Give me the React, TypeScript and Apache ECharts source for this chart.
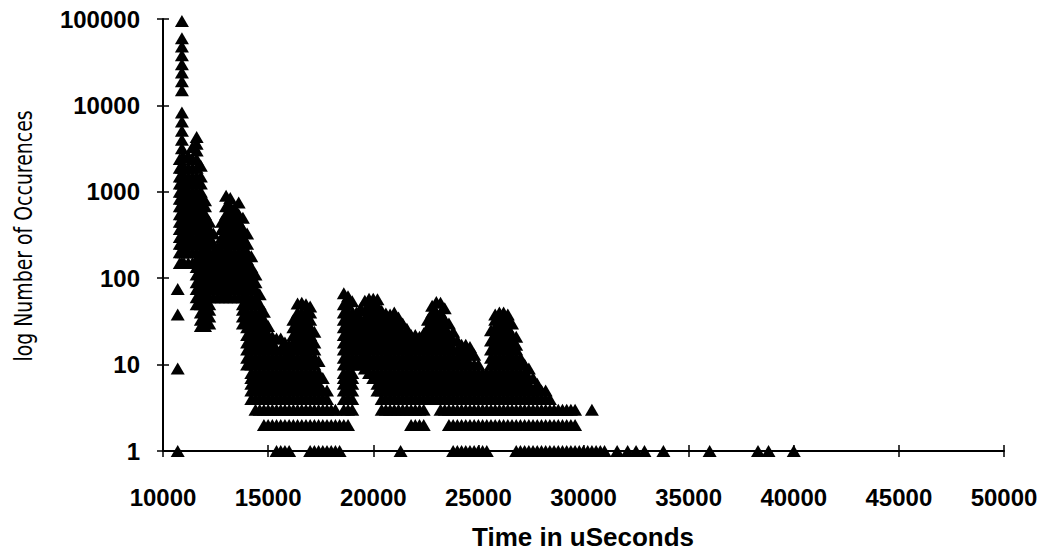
import { useEffect, useRef } from "react";
import * as echarts from "echarts";

// Histogram of event times: [time in µs, counts observed in that time column]
const peakRegion: [number, number[]][] = [
  [10700, [1, 9, 38, 75]],
  [10800, [150, 200, 250, 300, 370, 450, 550, 680, 830, 1000, 1250, 1500, 1900, 2400]],
  [10900, [150, 200, 250, 300, 370, 450, 550, 680, 830, 1000, 1250, 1500, 1900, 2500, 3200, 4000, 5100, 6500, 8300, 15000, 19000, 24000, 30000, 38000, 48000, 60000, 95000]],
  [11000, [150, 200, 250, 300, 370, 450, 550, 680, 830, 1000, 1250, 1500, 1900, 2500]],
  [11200, [150, 200, 250, 300, 370, 450, 550, 680, 830, 1000, 1250, 1500, 1900, 2600]],
  [11400, [150, 200, 250, 300, 370, 450, 550, 680, 830, 1000, 1250, 1500, 1900, 2400, 3300]],
  [11600, [50, 60, 75, 90, 110, 135, 165, 200, 250, 300, 370, 450, 550, 680, 830, 1000, 1250, 1500, 1900, 2400, 3000, 3600, 4300]],
  [11800, [28, 33, 40, 50, 60, 75, 90, 110, 135, 165, 200, 250, 300, 370, 450, 550, 680, 830, 1000, 1250, 1500, 2000]],
  [12000, [28, 33, 40, 50, 60, 75, 90, 110, 135, 165, 200, 250, 300, 370, 450, 550, 680, 800]],
  [12200, [30, 36, 43, 50, 60, 75, 90, 110, 135, 165, 200, 250, 300, 370, 450]],
  [12400, [60, 75, 90, 110, 135, 165, 200, 250, 330]],
  [12600, [60, 75, 90, 110, 135, 165, 200, 230]],
  [12800, [60, 75, 90, 110, 135, 165, 200, 250, 300, 370, 450]],
  [13000, [60, 75, 90, 110, 135, 165, 200, 250, 300, 370, 450, 550, 680, 900]],
  [13200, [60, 75, 90, 110, 135, 165, 200, 250, 300, 370, 450, 550, 680, 850]],
  [13400, [60, 75, 90, 110, 135, 165, 200, 250, 300, 370, 450, 550, 650]],
  [13600, [60, 75, 90, 110, 135, 165, 200, 250, 300, 370, 450, 550, 750]],
  [13800, [30, 36, 43, 50, 60, 75, 90, 110, 135, 165, 200, 250, 300, 370, 500]],
  [14000, [10, 12, 15, 18, 22, 27, 33, 40, 50, 60, 75, 90, 110, 135, 165, 200, 250, 330]],
  [14200, [4, 5, 6, 7, 8, 10, 12, 15, 18, 22, 27, 33, 40, 50, 60, 75, 90, 110, 135, 180]],
];

const middleRegion: [number, number[]][] = [
  [14400, [3, 4, 5, 6, 7, 8, 10, 12, 15, 18, 22, 27, 33, 40, 50, 60, 75, 90, 110]],
  [14600, [3, 4, 5, 6, 7, 8, 10, 12, 15, 18, 22, 27, 33, 40, 50, 65]],
  [14800, [2, 3, 4, 5, 6, 7, 8, 10, 12, 15, 18, 22, 27, 33, 41]],
  [15000, [2, 3, 4, 5, 6, 7, 8, 10, 12, 15, 18, 22, 28]],
  [15200, [2, 3, 4, 5, 6, 7, 8, 10, 12, 15, 18, 21]],
  [15400, [1, 2, 3, 4, 5, 6, 7, 8, 10, 12, 15, 20]],
  [15600, [1, 2, 3, 4, 5, 6, 7, 8, 10, 12, 15, 20]],
  [15800, [1, 2, 3, 4, 5, 6, 7, 8, 10, 12, 15, 18]],
  [16000, [1, 2, 3, 4, 5, 6, 7, 8, 10, 12, 14, 17]],
  [16200, [2, 3, 4, 5, 6, 7, 8, 10, 12, 15, 18, 22, 27, 33]],
  [16400, [2, 3, 4, 5, 6, 7, 8, 10, 12, 15, 18, 22, 27, 33, 40, 51]],
  [16600, [2, 3, 4, 5, 6, 7, 8, 10, 12, 15, 18, 22, 27, 33, 40, 52]],
  [16800, [2, 3, 4, 5, 6, 7, 8, 10, 12, 15, 18, 22, 27, 33, 40, 50]],
  [17000, [1, 2, 3, 4, 5, 6, 7, 8, 10, 12, 15, 18, 22, 27, 33, 40, 47]],
  [17200, [1, 2, 3, 4, 5, 6, 7, 8, 10, 12, 15, 18, 24]],
  [17400, [1, 2, 3, 4, 5, 6, 7, 8, 11]],
  [17600, [1, 2, 3, 4, 5, 7]],
  [17800, [1, 2, 3, 4, 5]],
  [18000, [1, 2, 3]],
  [18200, [1, 2, 3]],
  [18400, [1, 2]],
  [18600, [2, 3, 4, 5, 6, 7, 8, 10, 12, 15, 18, 22, 27, 33, 40, 50, 67]],
  [18800, [2, 3, 4, 5, 6, 7, 8, 10, 12, 15, 18, 22, 27, 33, 40, 50, 62]],
  [19000, [3, 4, 5, 6, 7, 8, 10, 12, 15, 18, 22, 27, 33, 40, 54]],
  [19200, [10, 12, 15, 18, 22, 27, 33, 40]],
  [19400, [10, 12, 15, 18, 22, 27, 33, 45]],
  [19600, [9, 11, 13, 16, 19, 23, 28, 34, 42, 55]],
  [19800, [8, 10, 12, 15, 18, 22, 27, 33, 40, 48, 58]],
  [20000, [7, 8, 10, 12, 15, 18, 22, 27, 33, 40, 48, 58]],
  [20200, [5, 6, 7, 8, 10, 12, 15, 18, 22, 27, 33, 40, 48, 57]],
  [20400, [3, 4, 5, 6, 7, 8, 10, 12, 15, 18, 22, 27, 33, 42]],
  [20600, [3, 4, 5, 6, 7, 8, 10, 12, 15, 18, 22, 27, 33, 39]],
  [20800, [3, 4, 5, 6, 7, 8, 10, 12, 15, 18, 22, 27, 33, 38]],
  [21000, [3, 4, 5, 6, 7, 8, 10, 12, 15, 18, 22, 27, 33, 40]],
  [21200, [3, 4, 5, 6, 7, 8, 10, 12, 15, 18, 22, 27, 35]],
  [21300, [1]],
  [21400, [3, 4, 5, 6, 7, 8, 10, 12, 15, 18, 22, 30]],
  [21600, [3, 4, 5, 6, 7, 8, 10, 12, 15, 18, 21, 26]],
];

const lateRegion: [number, number[]][] = [
  [21800, [2, 3, 4, 5, 6, 7, 8, 10, 12, 15, 18, 22]],
  [22000, [2, 3, 4, 5, 6, 7, 8, 10, 12, 15, 18, 22]],
  [22200, [2, 3, 4, 5, 6, 7, 8, 10, 12, 15, 18, 21]],
  [22400, [2, 3, 4, 5, 6, 7, 8, 10, 12, 15, 18, 23]],
  [22600, [4, 5, 6, 7, 8, 10, 12, 15, 18, 22, 27, 33]],
  [22800, [4, 5, 6, 7, 8, 10, 12, 15, 18, 22, 27, 33, 40, 48]],
  [23000, [4, 5, 6, 7, 8, 10, 12, 15, 18, 22, 27, 33, 40, 53]],
  [23200, [3, 4, 5, 6, 7, 8, 10, 12, 15, 18, 22, 27, 33, 40, 52]],
  [23400, [3, 4, 5, 6, 7, 8, 10, 12, 15, 18, 22, 27, 33, 45]],
  [23600, [2, 3, 4, 5, 6, 7, 8, 10, 12, 15, 18, 22, 30]],
  [23800, [1, 2, 3, 4, 5, 6, 7, 8, 10, 12, 15, 19, 24]],
  [24000, [1, 2, 3, 4, 5, 6, 7, 8, 10, 12, 15, 19]],
  [24200, [1, 2, 3, 4, 5, 6, 7, 8, 10, 12, 14, 17]],
  [24400, [1, 2, 3, 4, 5, 6, 7, 8, 10, 12, 14, 17]],
  [24600, [1, 2, 3, 4, 5, 6, 7, 8, 10, 13, 16]],
  [24800, [1, 2, 3, 4, 5, 6, 7, 8, 10, 13]],
  [25000, [1, 2, 3, 4, 5, 6, 7, 8, 10]],
  [25200, [1, 2, 3, 4, 5, 6, 7, 8]],
  [25400, [1, 2, 3, 4, 5, 6, 8]],
  [25600, [2, 3, 4, 5, 6, 7, 8, 10, 12, 15, 19, 25]],
  [25800, [2, 3, 4, 5, 6, 7, 8, 10, 12, 15, 18, 22, 27, 33, 38]],
  [26000, [2, 3, 4, 5, 6, 7, 8, 10, 12, 15, 18, 22, 27, 33, 40]],
  [26200, [2, 3, 4, 5, 6, 7, 8, 10, 12, 15, 18, 22, 27, 33, 40]],
  [26400, [2, 3, 4, 5, 6, 7, 8, 10, 12, 15, 18, 22, 27, 33, 38]],
  [26600, [2, 3, 4, 5, 6, 7, 8, 10, 12, 15, 18, 22, 30]],
  [26800, [1, 2, 3, 4, 5, 6, 7, 8, 10, 12, 15, 17, 21]],
  [27000, [1, 2, 3, 4, 5, 6, 7, 8, 10, 12]],
  [27200, [1, 2, 3, 4, 5, 6, 7, 8, 10]],
  [27400, [1, 2, 3, 4, 5, 6, 7, 9]],
  [27600, [1, 2, 3, 4, 5, 7]],
  [27800, [1, 2, 3, 4, 5, 6]],
  [28000, [1, 2, 3, 4, 5]],
  [28200, [1, 2, 3, 4, 5]],
  [28400, [1, 2, 3, 4]],
  [28600, [1, 2, 3]],
  [28800, [1, 2, 3]],
  [29000, [1, 2, 3]],
  [29200, [1, 2, 3]],
  [29400, [1, 2, 3]],
  [29600, [1, 2, 3]],
  [29800, [1]],
  [30000, [1]],
  [30200, [1]],
  [30400, [1, 3]],
  [30600, [1]],
  [30800, [1]],
  [31000, [1]],
];

const tailRegion: [number, number[]][] = [
  [31600, [1]],
  [32100, [1]],
  [32500, [1]],
  [32900, [1]],
  [33800, [1]],
  [36000, [1]],
  [38300, [1]],
  [38800, [1]],
  [40000, [1]],
];

const xAxisRange = { min: 10000, max: 50000, step: 5000 };
const yAxisRange = { min: 1, max: 100000 };
const xTitle = "Time in uSeconds";
const yTitle = "log Number of Occurences";

const labelFont = "'Liberation Sans', Arial, Helvetica, sans-serif";

export default function App() {
  const ref = useRef<HTMLDivElement>(null);
  useEffect(() => {
    if (!ref.current) return;
    const chart = echarts.init(ref.current, null, { renderer: "svg" });
    const points: [number, number][] = [];
    for (const region of [peakRegion, middleRegion, lateRegion, tailRegion]) {
      for (const [t, counts] of region) {
        for (const c of counts) points.push([t, c]);
      }
    }
    const axisLineStyle = { color: "#000", width: 2 };
    const tickStyle = { color: "#000", width: 1.5 };
    chart.setOption({
      animation: false,
      backgroundColor: "#fff",
      grid: { left: 163, right: 42, top: 19, bottom: 100, containLabel: false },
      xAxis: [
        {
          type: "value",
          position: "bottom",
          min: xAxisRange.min,
          max: xAxisRange.max,
          interval: xAxisRange.step,
          axisLine: { show: true, onZero: false, lineStyle: axisLineStyle },
          axisTick: { show: true, length: 6, lineStyle: tickStyle },
          axisLabel: {
            show: true,
            margin: 34,
            color: "#000",
            fontFamily: labelFont,
            fontWeight: "bold",
            fontSize: 24,
            formatter: (v: number) => String(v),
          },
          splitLine: { show: false },
        },
        {
          type: "value",
          position: "bottom",
          min: xAxisRange.min,
          max: xAxisRange.max,
          interval: xAxisRange.step,
          axisLine: { show: false, onZero: false },
          axisTick: { show: true, inside: true, length: 6, lineStyle: tickStyle },
          axisLabel: { show: false },
          splitLine: { show: false },
        },
      ],
      yAxis: [
        {
          type: "log",
          logBase: 10,
          position: "left",
          min: yAxisRange.min,
          max: yAxisRange.max,
          axisLine: { show: true, onZero: false, lineStyle: axisLineStyle },
          axisTick: { show: true, length: 6, lineStyle: tickStyle },
          axisLabel: {
            show: true,
            margin: 23,
            color: "#000",
            fontFamily: labelFont,
            fontWeight: "bold",
            fontSize: 24,
            formatter: (v: number) => String(Math.round(v)),
          },
          splitLine: { show: false },
        },
        {
          type: "log",
          logBase: 10,
          position: "left",
          min: yAxisRange.min,
          max: yAxisRange.max,
          axisLine: { show: false, onZero: false },
          axisTick: { show: true, inside: true, length: 6, lineStyle: tickStyle },
          axisLabel: { show: false },
          splitLine: { show: false },
        },
      ],
      graphic: [
        {
          type: "text",
          x: 583,
          y: 537,
          style: {
            text: xTitle,
            font: `bold 26px ${labelFont}`,
            fill: "#000",
            align: "center",
            verticalAlign: "middle",
          },
        },
        {
          type: "text",
          x: 23,
          y: 236,
          rotation: Math.PI / 2,
          scaleY: 1.2,
          style: {
            text: yTitle,
            font: "21px 'DejaVu Sans Condensed', 'DejaVu Sans', sans-serif",
            fill: "#000",
            align: "center",
            verticalAlign: "middle",
          },
        },
      ],
      series: [
        {
          type: "scatter",
          xAxisIndex: 0,
          yAxisIndex: 0,
          symbol: "triangle",
          symbolSize: [14, 12],
          clip: false,
          itemStyle: { color: "#000", opacity: 1 },
          data: points,
        },
      ],
    });
    return () => chart.dispose();
  }, []);
  return (
    <div
      ref={ref}
      style={{ position: "absolute", left: 0, top: 0, width: 1046, height: 551, background: "#fff" }}
    />
  );
}
